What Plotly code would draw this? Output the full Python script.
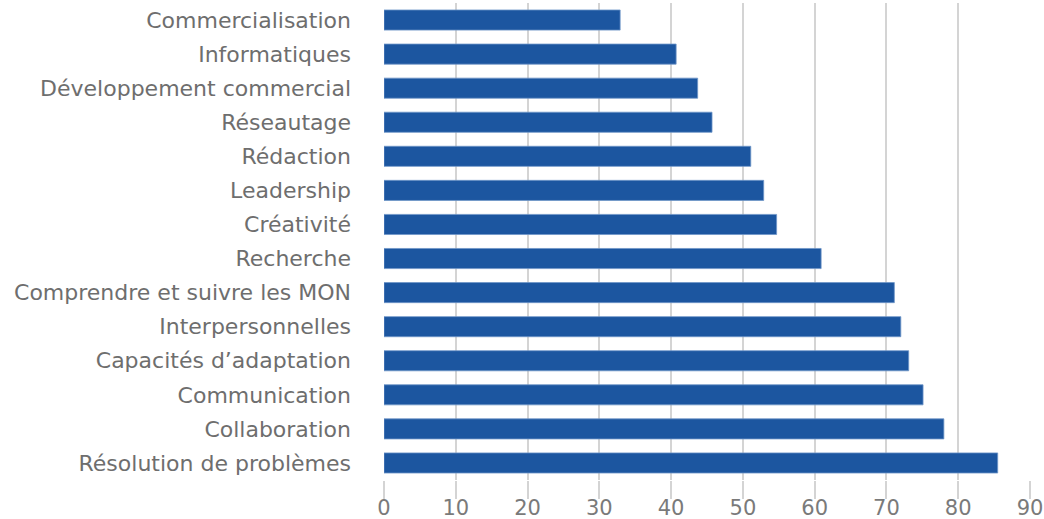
import plotly.graph_objects as go

categories = [
    "Commercialisation", "Informatiques", "Développement commercial", "Réseautage",
    "Rédaction", "Leadership", "Créativité", "Recherche",
    "Comprendre et suivre les MON", "Interpersonnelles", "Capacités d’adaptation",
    "Communication", "Collaboration", "Résolution de problèmes",
]
values = [32.9, 40.7, 43.7, 45.7, 51.1, 52.9, 54.7, 60.9, 71.1, 72.0, 73.1, 75.1, 78.0, 85.5]
x_ticks = [0, 10, 20, 30, 40, 50, 60, 70, 80, 90]

fig = go.Figure(go.Bar(
    x=values, y=categories, orientation="h",
    marker=dict(color="#1c56a0", line=dict(color="#6f95c8", width=0.8)),
))

fig.update_layout(
    width=1044, height=519,
    margin=dict(l=384, r=14, t=3, b=39),
    paper_bgcolor="white", plot_bgcolor="white",
    bargap=0.41,
    font=dict(family="DejaVu Sans", size=21, color="#6e6e6e"),
    showlegend=False,
)
fig.update_xaxes(
    range=[0, 90], tickvals=x_ticks, showgrid=True, gridcolor="#d4d4d4", gridwidth=1.5,
    ticks="outside", ticklen=18, tickcolor="#d4d4d4", tickwidth=1.5,
    tickfont=dict(size=21, color="#7a7a7a"), zeroline=False, showline=False,
    automargin=False, ticklabelstandoff=-9,
)
fig.update_yaxes(
    categoryorder="array", categoryarray=categories, autorange="reversed",
    ticklabelstandoff=32, showgrid=False, showline=False, ticks="",
    tickfont=dict(size=22, color="#6e6e6e"), automargin=False,
)

fig.write_html("out.html")
